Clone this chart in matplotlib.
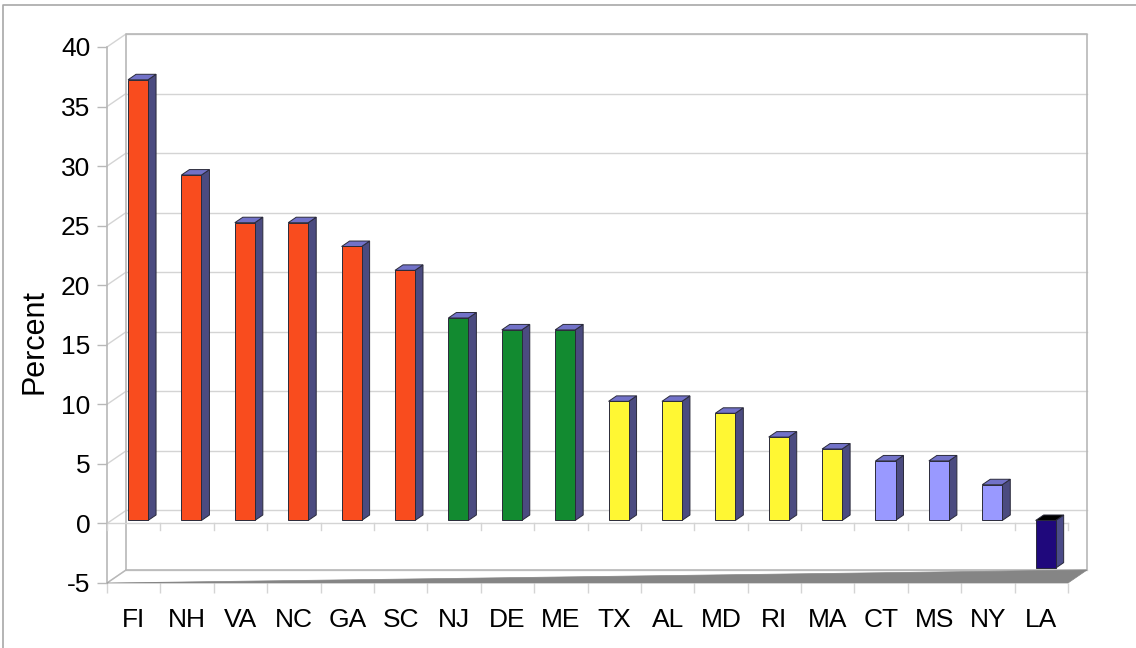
import matplotlib
matplotlib.use("Agg")
import matplotlib.pyplot as plt
from matplotlib.patches import Polygon
from matplotlib.lines import Line2D
from matplotlib.transforms import IdentityTransform

plt.rcParams["font.family"] = ["Liberation Sans", "DejaVu Sans"]

# Data
states = ["FI", "NH", "VA", "NC", "GA", "SC", "NJ", "DE", "ME",
          "TX", "AL", "MD", "RI", "MA", "CT", "MS", "NY", "LA"]
values = [37, 29, 25, 25, 23, 21, 17, 16, 16,
          10, 10, 9, 7, 6, 5, 5, 3, -4]
groups = ["hi"] * 6 + ["mid"] * 3 + ["low"] * 5 + ["min"] * 3 + ["neg"]
y_ticks = [-5, 0, 5, 10, 15, 20, 25, 30, 35, 40]

# front / side / top colours of each bar group
palette = {
    "hi":  ("#f94c1e", "#4b4b80", "#7272c8"),
    "mid": ("#128a30", "#4b4b80", "#7272c8"),
    "low": ("#fff733", "#4b4b80", "#7272c8"),
    "min": ("#9999ff", "#4b4b80", "#7272c8"),
    "neg": ("#1f087c", "#4b4b88", "#000000"),
}

W, H = 1136, 648
fig = plt.figure(figsize=(W / 100, H / 100), dpi=100)
ax = fig.add_axes([107 / W, 1 - 583 / H, (1068 - 107) / W, (583 - 47) / H])
n = len(states)
ax.set_xlim(0, n)
ax.set_ylim(y_ticks[0], y_ticks[-1])
for s in ax.spines.values():
    s.set_visible(False)
ax.patch.set_visible(False)

DX, DY = 19, 13          # full depth of the box, pixels
D1, D2 = 0.23, 0.65      # depth span occupied by the bars
BW = 0.375               # bar width, category units
GRID = "#d4d4d4"
WALL = "#b8b8b8"
EDGE = "#2a2a3a"


def P(x, y, d=0.0):
    px, py = ax.transData.transform((x, y))
    return (px + d * DX, py + d * DY)


def line(pts, color, lw=1.0, z=1):
    xs, ys = zip(*pts)
    ax.add_line(Line2D(xs, ys, transform=IdentityTransform(), color=color,
                       lw=lw, zorder=z, clip_on=False))


def face(pts, fc, z=3):
    ax.add_patch(Polygon(pts, closed=True, transform=IdentityTransform(),
                         facecolor=fc, edgecolor=EDGE, lw=0.7, zorder=z,
                         clip_on=False, joinstyle="miter"))


ymin, ymax = y_ticks[0], y_ticks[-1]

# back wall grid and left wall diagonals
for v in y_ticks:
    line([P(0, v, 1), P(n, v, 1)], GRID, 1.0, 1)
    line([P(0, v, 0), P(0, v, 1)], GRID, 1.0, 1)
# box edges
line([P(0, ymin, 1), P(0, ymax, 1), P(n, ymax, 1), P(n, ymin, 1), P(0, ymin, 1)], WALL, 1.2, 1.5)
line([P(0, ymin, 0), P(0, ymax, 0)], WALL, 1.2, 1.5)
line([P(0, ymin, 0), P(0, ymin, 1)], WALL, 1.0, 1.5)
line([P(0, 0, 0), P(n, 0, 0)], GRID, 1.0, 1.5)

# ticks below the zero line
for i in range(n + 1):
    a = P(i, 0, 0)
    line([a, (a[0], a[1] - 7)], GRID, 1.0, 1.5)

# floor shading
floor = [P(0, ymin, 0), P(n, ymin, 1), P(n, ymin, 0)]
ax.add_patch(Polygon(floor, closed=True, transform=IdentityTransform(),
                     facecolor="#858585", edgecolor="#858585", lw=0.5,
                     zorder=2, clip_on=False))

# bars
for i, (v, g) in enumerate(zip(values, groups)):
    fc, sc, tc = palette[g]
    x0 = i + 0.5 - BW / 2
    x1 = i + 0.5 + BW / 2
    top = max(v, 0)
    bot = min(v, 0)
    face([P(x1, bot, D1), P(x1, top, D1), P(x1, top, D2), P(x1, bot, D2)], sc)
    face([P(x0, top, D1), P(x1, top, D1), P(x1, top, D2), P(x0, top, D2)], tc)
    face([P(x0, bot, D1), P(x1, bot, D1), P(x1, top, D1), P(x0, top, D1)], fc, z=3.5)

# axes ticks and labels
ax.set_yticks(y_ticks)
ax.set_yticklabels([str(t) for t in y_ticks])
ax.set_xticks([i + 0.5 for i in range(n)])
ax.set_xticklabels(states)
ax.set_xticks(range(n + 1), minor=True)
ax.tick_params(axis="y", length=7, width=1, color=WALL, labelsize=19, pad=5)
ax.tick_params(axis="x", which="major", length=0, labelsize=19, pad=18)
ax.tick_params(axis="x", which="minor", length=7, width=1, color=GRID)
ax.set_ylabel("Percent", fontsize=22, labelpad=8, y=0.45)

# outer frame
fig.add_artist(Line2D([3 / W, 3 / W, 1], [0, 1 - 5 / H, 1 - 5 / H],
                      transform=fig.transFigure, color="#a8a8a8", lw=1.2))

fig.savefig("out.png", dpi=100)
